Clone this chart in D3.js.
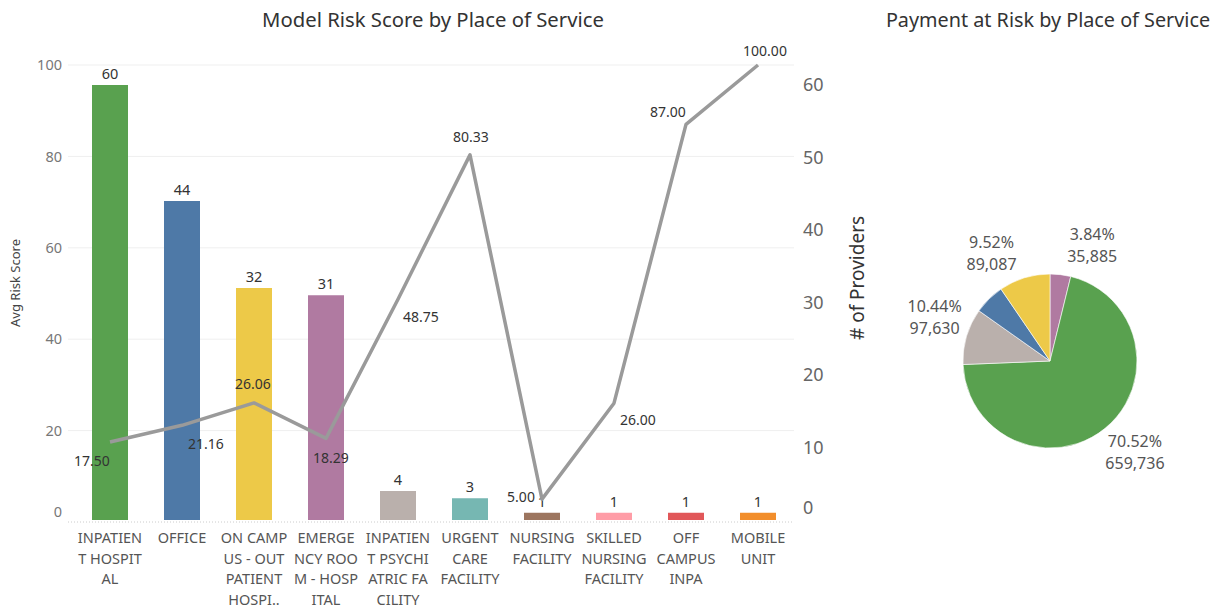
<!DOCTYPE html>
<html><head><meta charset="utf-8">
<script src="https://cdn.jsdelivr.net/npm/d3@7"></script>
<style>
body{margin:0;background:#fff;}
svg text{font-family:"Noto Sans",sans-serif;}
</style></head>
<body><svg id="chart" width="1221" height="608"></svg>
<script>
// ---------- data ----------
const categories = ["INPATIENT HOSPITAL","OFFICE","ON CAMPUS - OUTPATIENT HOSPITAL","EMERGENCY ROOM - HOSPITAL","INPATIENT PSYCHIATRIC FACILITY","URGENT CARE FACILITY","NURSING FACILITY","SKILLED NURSING FACILITY","OFF CAMPUS INPA","MOBILE UNIT"];
const categoryLabelLines = [
  ["INPATIEN","T HOSPIT","AL"],
  ["OFFICE"],
  ["ON CAMP","US - OUT","PATIENT","HOSPI.."],
  ["EMERGE","NCY ROO","M - HOSP","ITAL"],
  ["INPATIEN","T PSYCHI","ATRIC FA","CILITY"],
  ["URGENT","CARE","FACILITY"],
  ["NURSING","FACILITY"],
  ["SKILLED","NURSING","FACILITY"],
  ["OFF","CAMPUS","INPA"],
  ["MOBILE","UNIT"]
];
const providers = [60,44,32,31,4,3,1,1,1,1];
const avgRiskScore = [17.50,21.16,26.06,18.29,48.75,80.33,5.00,26.00,87.00,100.00];
const barColors = ["#59a14f","#4e79a7","#edc948","#b07aa1","#bab0ac","#76b7b2","#9c755f","#ff9da7","#e15759","#f28e2b"];
const leftTicks = [0,20,40,60,80,100];
const rightTicks = [0,10,20,30,40,50,60];

const pieCategories = ["EMERGENCY ROOM - HOSPITAL","INPATIENT HOSPITAL","INPATIENT PSYCHIATRIC FACILITY","OFFICE","ON CAMPUS - OUTPATIENT HOSPITAL"];
const pieValues = [35885,659736,97630,53192,89087];
const pieColors = ["#b07aa1","#59a14f","#bab0ac","#4e79a7","#edc948"];
const pieShowLabel = [true,true,true,false,true];

// ---------- layout ----------
const svg = d3.select("#chart");
const plot = {left:74, right:794, top:65, bottom:522};
const lineLabelOffset = [[-18,19],[24,19],[-1,-19],[5,20],[23,18],[1,-18],[-21,-2],[24,17],[-18,-12],[7,-14]];
const pieAngleNudge = [13,-4,5,0,-11];

const x = d3.scaleBand().domain(categories).range([plot.left, plot.right]).paddingInner(0.5).paddingOuter(0.25);
const yLeft = d3.scaleLinear().domain([0,100]).range([plot.bottom, plot.top]);
const yRight = d3.scaleLinear().domain([0,60]).range([520, 85]);

// titles
svg.append("text").attr("x",433).attr("y",27).attr("text-anchor","middle")
  .style("font-size","20.3px").attr("fill","#333").text("Model Risk Score by Place of Service");
svg.append("text").attr("x",1048).attr("y",27).attr("text-anchor","middle")
  .style("font-size","19.8px").attr("fill","#333").text("Payment at Risk by Place of Service");

// gridlines
svg.append("g").selectAll("line").data(leftTicks.filter(d=>d>0)).join("line")
  .attr("x1",68).attr("x2",plot.right).attr("y1",d=>yLeft(d)).attr("y2",d=>yLeft(d))
  .attr("stroke","#efefef").attr("stroke-width",1);

// left axis
const gl = svg.append("g").attr("transform",`translate(62,0)`)
  .call(d3.axisLeft(yLeft).tickValues(leftTicks).tickSize(0).tickPadding(0));
gl.select(".domain").remove();
gl.selectAll("text").style("font-size","14.5px").attr("fill","#777")
  .attr("dy", d=> d===0 ? "-0.4em" : "0.32em");
svg.append("text").attr("transform","translate(20,283) rotate(-90)").attr("text-anchor","middle")
  .style("font-size","13px").attr("fill","#444").text("Avg Risk Score");

// right axis
const gr = svg.append("g").attr("transform",`translate(803,0)`)
  .call(d3.axisRight(yRight).tickValues(rightTicks).tickSize(0).tickPadding(0));
gr.select(".domain").remove();
gr.selectAll("text").style("font-size","18px").attr("fill","#666")
  .attr("dy", d=> d===0 ? "-0.35em" : "0.32em");
svg.append("text").attr("transform","translate(864,278) rotate(-90)").attr("text-anchor","middle")
  .style("font-size","19px").attr("fill","#333").text("# of Providers");

// baseline
svg.append("line").attr("x1",68).attr("x2",plot.right).attr("y1",plot.bottom).attr("y2",plot.bottom)
  .attr("stroke","#ccc").attr("stroke-dasharray","1,2");

// bars
svg.append("g").selectAll("rect").data(categories).join("rect")
  .attr("x",d=>x(d)).attr("width",x.bandwidth())
  .attr("y",(d,i)=>yRight(providers[i])).attr("height",(d,i)=>yRight(0)-yRight(providers[i]))
  .attr("fill",(d,i)=>barColors[i]);
svg.append("g").selectAll("text").data(categories).join("text")
  .attr("x",d=>x(d)+x.bandwidth()/2).attr("y",(d,i)=>yRight(providers[i])-6)
  .attr("text-anchor","middle").style("font-size","14.5px").attr("fill","#333")
  .text((d,i)=>providers[i]);

// x labels
const xl = svg.append("g").selectAll("text").data(categories).join("text")
  .attr("text-anchor","middle").style("font-size","14.5px").attr("fill","#555");
xl.each(function(d,i){
  const t = d3.select(this);
  categoryLabelLines[i].forEach((ln,j)=>{
    t.append("tspan").attr("x",x(d)+x.bandwidth()/2).attr("y",543+j*20.5).text(ln);
  });
});

// line
const line = d3.line().x((d,i)=>x(categories[i])+x.bandwidth()/2).y(d=>yLeft(d));
svg.append("path").datum(avgRiskScore).attr("d",line).attr("fill","none")
  .attr("stroke","#9a9a9a").attr("stroke-width",3.5).attr("stroke-linejoin","round");
svg.append("g").selectAll("text").data(avgRiskScore).join("text")
  .attr("x",(d,i)=>x(categories[i])+x.bandwidth()/2+lineLabelOffset[i][0])
  .attr("y",(d,i)=>yLeft(d)+lineLabelOffset[i][1]).attr("dy","0.35em")
  .attr("text-anchor","middle").style("font-size","14px").attr("fill","#333")
  .text(d=>d3.format(".2f")(d));

// pie
const total = d3.sum(pieValues);
const pcx = 1050, pcy = 361, pr = 87;
const pie = d3.pie().sort(null).value(d=>d)(pieValues);
const arc = d3.arc().innerRadius(0).outerRadius(pr);
const pg = svg.append("g").attr("transform",`translate(${pcx},${pcy})`);
pg.selectAll("path").data(pie).join("path").attr("d",arc)
  .attr("fill",(d,i)=>pieColors[i]).attr("stroke","#fff").attr("stroke-width",0.6);
const lbl = pg.selectAll("text").data(pie.filter((d,i)=>pieShowLabel[i])).join("text")
  .attr("text-anchor","middle").style("font-size","16px").attr("fill","#555");
lbl.each(function(d){
  const i = d.index;
  const a = (d.startAngle+d.endAngle)/2 + pieAngleNudge[i]*Math.PI/180;
  const R = 124;
  const lx = R*Math.sin(a), ly = -R*Math.cos(a);
  const t = d3.select(this);
  t.append("tspan").attr("x",lx).attr("y",ly-4).text(d3.format(".2f")(d.value/total*100)+"%");
  t.append("tspan").attr("x",lx).attr("y",ly+18).text(d3.format(",")(d.value));
});
</script></body></html>
